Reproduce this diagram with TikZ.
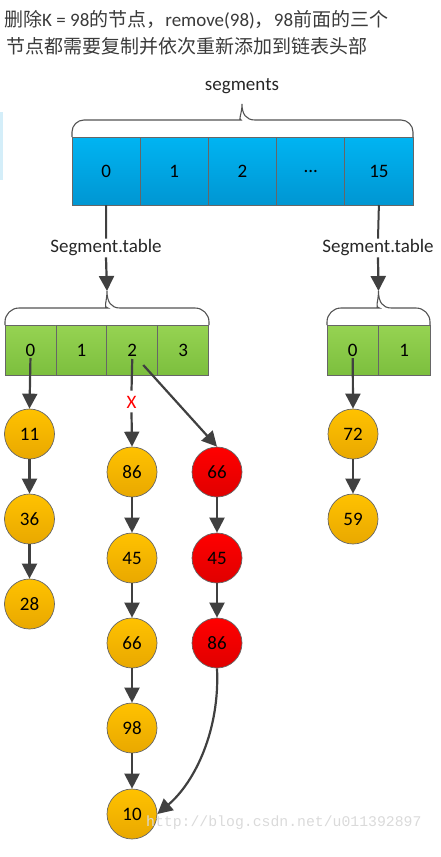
\documentclass[tikz,border=0pt]{standalone}
\usepackage{fontspec}
\setmainfont{Carlito}
\newfontfamily\cjk{Noto Sans CJK SC}
\newfontfamily\wmfont{Liberation Mono}
\usetikzlibrary{arrows.meta}
\definecolor{lineg}{HTML}{404040}
\definecolor{bordg}{HTML}{666666}
\definecolor{bluetop}{HTML}{00B4F2}
\definecolor{bluebot}{HTML}{0096D2}
\definecolor{greentop}{HTML}{96D352}
\definecolor{greenbot}{HTML}{7CBF3E}
\definecolor{yeltop}{HTML}{FFC200}
\definecolor{yelbot}{HTML}{E9A800}
\definecolor{redtop}{HTML}{FF0000}
\definecolor{redbot}{HTML}{E00000}
\definecolor{titleg}{HTML}{3A3A3A}
\definecolor{wmg}{HTML}{DADADA}
\definecolor{strip}{HTML}{D4EEF9}
\tikzset{
  lbl/.style={font=\fontsize{19}{22}\selectfont, text=black!85, inner sep=1pt},
  bcell/.style={draw=bordg, line width=0.8pt, minimum width=68.2pt, minimum height=68pt, inner sep=0pt, outer sep=0pt, top color=bluetop, bottom color=bluebot, font=\fontsize{19}{22}\selectfont},
  gcell/.style={draw=bordg, line width=0.8pt, minimum width=50.9pt, minimum height=50pt, inner sep=0pt, outer sep=0pt, top color=greentop, bottom color=greenbot, font=\fontsize{19}{22}\selectfont},
  hcell/.style={gcell, minimum width=51.5pt},
  ynode/.style={circle, draw=bordg, line width=0.7pt, minimum size=50pt, inner sep=0pt, top color=yeltop, bottom color=yelbot, font=\fontsize{19}{22}\selectfont},
  rnode/.style={ynode, top color=redtop, bottom color=redbot},
  conn/.style={draw=lineg, line width=2.2pt},
  arr/.style={conn, -{Triangle[width=15pt,length=15pt]}},
  bracepath/.style={draw=lineg!90, line width=1.1pt},
}
\begin{document}
\begin{tikzpicture}[x=1pt,y=-1pt]
\useasboundingbox (0,0) rectangle (441,857);
\fill[strip] (0,112) rectangle (3,180);
% title
\node[anchor=west, inner sep=0pt, text=titleg, font=\fontsize{19}{22}\selectfont] (t1) at (4,20)
  {{\cjk 删除}K = 98{\cjk 的节点，}remove(98){\cjk ，}98{\cjk 前面的三个}};
\node[anchor=west, inner sep=0pt, text=titleg, font=\fontsize{19}{22}\selectfont] (t2) at (6,46)
  {{\cjk 节点都需要复制并依次重新添加到链表头部}};
% segments label and brace
\node[lbl] (seg) at (242,86) {segments};
\coordinate (ttip) at (242,104);
\path[bracepath] (72,137) [rounded corners=12pt] -- (72,120) -- (229,120) [sharp corners]
  .. controls (238,120) and (242,114) .. (ttip)
  .. controls (242,114) and (246,120) .. (255,120) [rounded corners=12pt] -- (413,120) -- (413,137);
% blue array
\node[bcell] (b0) at (106.1,171) {0};
\node[bcell] (b1) at (174.3,171) {1};
\node[bcell] (b2) at (242.5,171) {2};
\node[bcell] (b3) at (310.7,171) {...};
\node[bcell] (b4) at (378.9,171) {15};
% segment.table labels
\node[lbl] (st1) at (106,248) {Segment.table};
\node[lbl] (st2) at (378,248) {Segment.table};
\draw[conn, line width=2pt] (b0.south) -- (st1.north);
\draw[conn, line width=2pt] (b4.south) -- (st2.north);
% left brace
\coordinate (ltip) at (107,291);
\path[bracepath] (5,325) [rounded corners=14pt] -- (5,308) -- (94,308) [sharp corners]
  .. controls (103,308) and (107,302) .. (ltip)
  .. controls (107,302) and (111,308) .. (120,308) [rounded corners=14pt] -- (209,308) -- (209,325);
% right brace
\coordinate (rtip) at (378.5,291);
\path[bracepath] (327,325) [rounded corners=14pt] -- (327,308) -- (365.5,308) [sharp corners]
  .. controls (374.5,308) and (378.5,302) .. (rtip)
  .. controls (378.5,302) and (382.5,308) .. (391.5,308) [rounded corners=14pt] -- (430,308) -- (430,325);
\draw[arr] (st1.south) -- (ltip);
\draw[arr] (st2.south) -- (rtip);
% green arrays
\node[gcell] (g0) at (30.45,350) {0};
\node[gcell] (g1) at (81.35,350) {1};
\node[gcell] (g2) at (132.25,350) {2};
\node[gcell] (g3) at (183.15,350) {3};
\node[hcell] (h0) at (352.75,350) {0};
\node[hcell] (h1) at (404.25,350) {1};
% circles
\node[ynode] (c11) at (29.5,434) {11};
\node[ynode] (c36) at (29.5,519) {36};
\node[ynode] (c28) at (29.5,604) {28};
\node[ynode] (c86) at (132,472) {86};
\node[ynode] (c45) at (132,558) {45};
\node[ynode] (c66) at (132,643) {66};
\node[ynode] (c98) at (132,728) {98};
\node[ynode] (c10) at (132,814) {10};
\node[rnode] (r66) at (217,472) {66};
\node[rnode] (r45) at (217,558) {45};
\node[rnode] (r86) at (217,643) {86};
\node[ynode] (c72) at (353,434) {72};
\node[ynode] (c59) at (353,519) {59};
% X mark
\node[text=red, font=\fontsize{19}{22}\selectfont, inner sep=1pt] (xm) at (131.5,402) {X};
% connectors
\draw[arr] ([yshift=-8pt]g0.center) -- (c11.north);
\draw[arr] (c11.south) -- (c36.north);
\draw[arr] (c36.south) -- (c28.north);
\draw[conn] ([yshift=-9pt]g2.center) -- ([yshift=4pt]xm.north);
\draw[arr] ([yshift=-3pt]xm.south) -- (c86.north);
\draw[arr] (c86.south) -- (c45.north);
\draw[arr] (c45.south) -- (c66.north);
\draw[arr] (c66.south) -- (c98.north);
\draw[arr] (c98.south) -- (c10.north);
\draw[arr] ([xshift=11pt,yshift=-15pt]g2.center) -- (r66.north);
\draw[arr] (r66.south) -- (r45.north);
\draw[arr] (r45.south) -- (r86.north);
\draw[arr] (r86.south) .. controls (220,730) and (195,782) .. (c10.east);
\draw[arr] ([yshift=-8pt]h0.center) -- (c72.north);
\draw[arr] (c72.south) -- (c59.north);
% watermark
\node[anchor=west, inner sep=0pt, text=wmg, font=\wmfont\fontsize{14.8}{16}\selectfont] (wm) at (146,823) {http://blog.csdn.net/u011392897};
\end{tikzpicture}
\end{document}
